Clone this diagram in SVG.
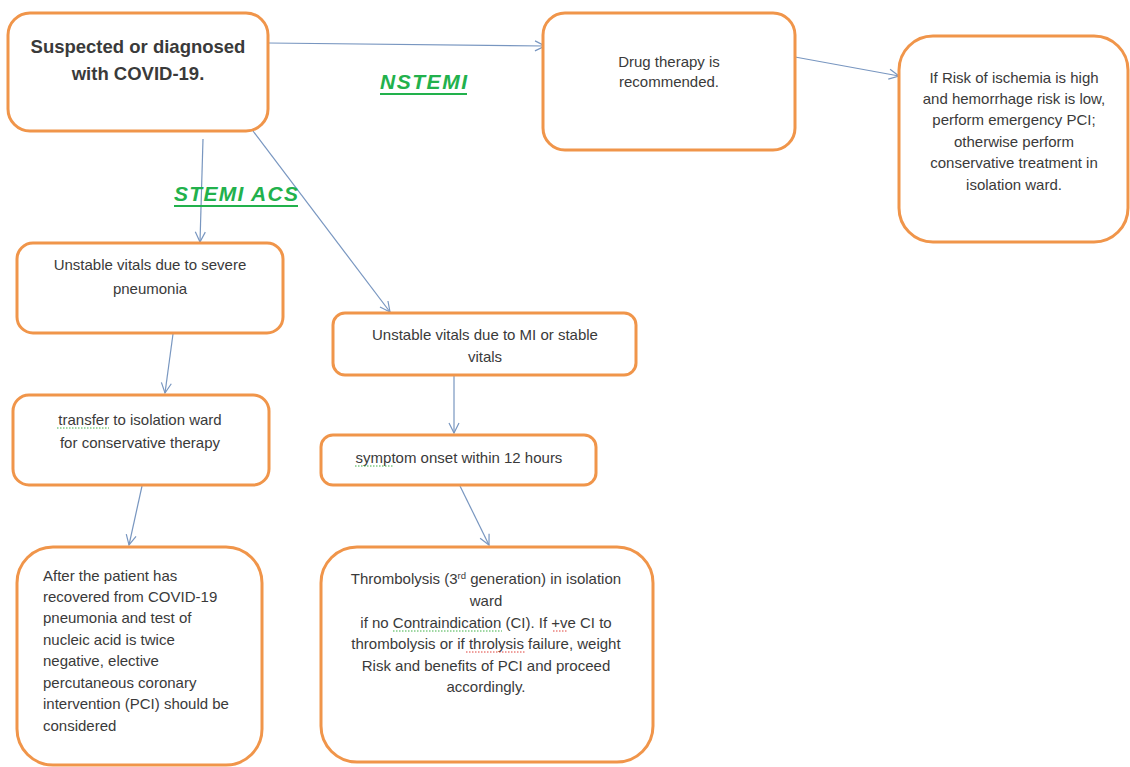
<svg xmlns="http://www.w3.org/2000/svg" width="1130" height="767" viewBox="0 0 1130 767">
<defs>
<style>
.box{fill:#fff;stroke:#F0954A;stroke-width:3}
.t{font-family:"Liberation Sans",Arial,sans-serif;font-size:15px;fill:#3a3a3a}
.c{text-anchor:middle}
.b{font-weight:bold;font-size:18.5px}
.lbl{font-family:"Liberation Sans",Arial,sans-serif;font-size:21px;font-weight:bold;font-style:italic;fill:#22B14C}
.ul{stroke:#22B14C;stroke-width:2}
.con line{stroke:#7896C0;stroke-width:1.2;fill:none}
.sg{stroke:#3FAF46;stroke-width:1;stroke-dasharray:1.5 1.5}
.sr{stroke:#E0403A;stroke-width:1;stroke-dasharray:1.5 1.5}
</style>
<marker id="ah" viewBox="0 0 12 12" refX="11" refY="6" markerWidth="12" markerHeight="12" markerUnits="userSpaceOnUse" orient="auto">
<path d="M1,1 L11,6 L1,11" fill="none" stroke="#7896C0" stroke-width="1.2"/>
</marker>
</defs>
<rect width="1130" height="767" fill="#fff"/>

<g id="connectors" class="con">
<line x1="268" y1="43" x2="545" y2="46" marker-end="url(#ah)"/>
<line x1="795" y1="57" x2="899" y2="76" marker-end="url(#ah)"/>
<line x1="203" y1="139" x2="200" y2="242" marker-end="url(#ah)"/>
<line x1="253" y1="131" x2="390" y2="312" marker-end="url(#ah)"/>
<line x1="173" y1="334" x2="165" y2="393" marker-end="url(#ah)"/>
<line x1="454" y1="375" x2="454" y2="433" marker-end="url(#ah)"/>
<line x1="142" y1="486" x2="129" y2="545" marker-end="url(#ah)"/>
<line x1="460" y1="486" x2="489" y2="545" marker-end="url(#ah)"/>
</g>

<g id="label-nstemi">
<text class="lbl" x="380" y="89" textLength="87" lengthAdjust="spacing">NSTEMI</text>
<line class="ul" x1="380" y1="94" x2="467" y2="94"/>
</g>
<g id="label-stemi">
<text class="lbl" x="174" y="201" textLength="124" lengthAdjust="spacing">STEMI ACS</text>
<line class="ul" x1="174" y1="206" x2="298" y2="206"/>
</g>

<g id="n-covid">
<rect class="box" x="8" y="13" width="260" height="118" rx="22"/>
<text class="t c b" x="138" y="53">Suspected or diagnosed</text>
<text class="t c b" x="138" y="80">with COVID-19.</text>
</g>

<g id="n-drug">
<rect class="box" x="543" y="13" width="252" height="137" rx="22"/>
<text class="t c" x="669" y="67">Drug therapy is</text>
<text class="t c" x="669" y="87">recommended.</text>
</g>

<g id="n-risk">
<rect class="box" x="899" y="36" width="229" height="206" rx="34"/>
<text class="t c" x="1014" y="83">If Risk of ischemia is high</text>
<text class="t c" x="1014" y="104">and hemorrhage risk is low,</text>
<text class="t c" x="1014" y="125">perform emergency PCI;</text>
<text class="t c" x="1014" y="147">otherwise perform</text>
<text class="t c" x="1014" y="168">conservative treatment in</text>
<text class="t c" x="1014" y="190">isolation ward.</text>
</g>

<g id="n-pneumonia">
<rect class="box" x="17" y="243" width="266" height="90" rx="16"/>
<text class="t c" x="150" y="270">Unstable vitals due to severe</text>
<text class="t c" x="150" y="294">pneumonia</text>
</g>

<g id="n-mi">
<rect class="box" x="333" y="313" width="303" height="62" rx="12"/>
<text class="t c" x="485" y="340">Unstable vitals due to MI or stable</text>
<text class="t c" x="485" y="362">vitals</text>
</g>

<g id="n-transfer">
<rect class="box" x="13" y="395" width="256" height="90" rx="16"/>
<text class="t c" x="140" y="425">transfer to isolation ward</text>
<text class="t c" x="140" y="448">for conservative therapy</text>
<line class="sg" x1="57" y1="428" x2="109" y2="428"/>
</g>

<g id="n-symptom">
<rect class="box" x="321" y="435" width="275" height="50" rx="12"/>
<text class="t c" x="459" y="463">symptom onset within 12 hours</text>
<line class="sg" x1="355" y1="466" x2="394" y2="466"/>
</g>

<g id="n-after">
<rect class="box" x="17" y="547" width="245" height="218" rx="36"/>
<text class="t" x="43" y="581">After the patient has</text>
<text class="t" x="43" y="602">recovered from COVID-19</text>
<text class="t" x="43" y="623">pneumonia and test of</text>
<text class="t" x="43" y="645">nucleic acid is twice</text>
<text class="t" x="43" y="666">negative, elective</text>
<text class="t" x="43" y="688">percutaneous coronary</text>
<text class="t" x="43" y="709">intervention (PCI) should be</text>
<text class="t" x="43" y="731">considered</text>
</g>

<g id="n-thrombolysis">
<rect class="box" x="321" y="547" width="332" height="215" rx="36"/>
<text class="t c" x="486" y="584">Thrombolysis (3<tspan font-size="9.5" dy="-5">rd</tspan><tspan dy="5"> generation) in isolation</tspan></text>
<text class="t c" x="486" y="606">ward</text>
<text class="t c" x="486" y="628">if no Contraindication (CI). If +ve CI to</text>
<text class="t c" x="486" y="649">thrombolysis or if throlysis failure, weight</text>
<text class="t c" x="486" y="671">Risk and benefits of PCI and proceed</text>
<text class="t c" x="486" y="692">accordingly.</text>
<line class="sg" x1="393" y1="631" x2="502" y2="631"/>
<line class="sr" x1="553" y1="631" x2="567" y2="631"/>
<line class="sr" x1="466" y1="652" x2="526" y2="652"/>
</g>
</svg>
